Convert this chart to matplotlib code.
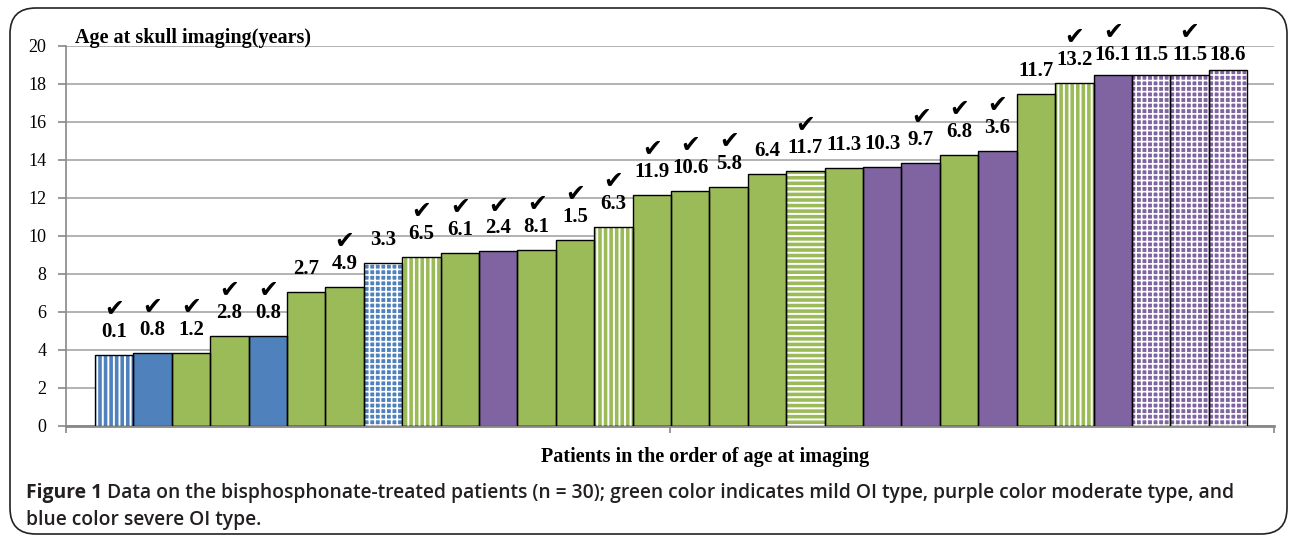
import matplotlib
matplotlib.use("Agg")
import matplotlib.pyplot as plt
from matplotlib.patches import FancyBboxPatch

# data
ages = [3.74, 3.86, 3.86, 4.75, 4.75, 7.07, 7.33, 8.56, 8.88, 9.09,
        9.19, 9.26, 9.79, 10.46, 12.17, 12.38, 12.6, 13.26, 13.44, 13.58,
        13.65, 13.86, 14.26, 14.46, 17.47, 18.07, 18.47, 18.47, 18.47, 18.74]
labels = ["0.1", "0.8", "1.2", "2.8", "0.8", "2.7", "4.9", "3.3", "6.5", "6.1",
          "2.4", "8.1", "1.5", "6.3", "11.9", "10.6", "5.8", "6.4", "11.7", "11.3",
          "10.3", "9.7", "6.8", "3.6", "11.7", "13.2", "16.1", "11.5", "11.5", "18.6"]
# m = mild (green), o = moderate (purple), s = severe (blue)
oi_type = ["s", "s", "m", "m", "s", "m", "m", "s", "m", "m",
           "o", "m", "m", "m", "m", "m", "m", "m", "m", "m",
           "o", "o", "m", "o", "m", "m", "o", "o", "o", "o"]
patterns = ["|||", "", "", "", "", "", "", "+++", "|||", "",
            "", "", "", "|||", "", "", "", "", "---", "",
            "", "", "", "", "", "|||", "", "+++", "+++", "+++"]
checked = [1, 1, 1, 1, 1, 0, 1, 0, 1, 1,
           1, 1, 1, 1, 1, 1, 1, 0, 1, 0,
           0, 1, 1, 1, 0, 1, 1, 0, 1, 0]

caption_lead = "Figure 1"
caption_1 = "Data on the bisphosphonate-treated patients (n = 30); green color indicates mild OI type, purple color moderate type, and"
caption_2 = "blue color severe OI type."

colors = {"m": "#9BBB59", "o": "#8064A2", "s": "#4F81BD"}

fig = plt.figure(figsize=(12.9, 5.37), dpi=100)

# rounded frame around the figure
frame = FancyBboxPatch((10 / 1290, 3 / 537), 1277 / 1290, 526 / 537,
                       boxstyle="round,pad=0,rounding_size=0.02",
                       transform=fig.transFigure, fill=False,
                       edgecolor="#222222", linewidth=1.2, mutation_aspect=2.4)
fig.patches.append(frame)

ax = fig.add_axes([66 / 1290, 1 - 426 / 537, 1208 / 1290, 380 / 537])

x = list(range(1, len(ages) + 1))
fcol = [colors[t] for t in oi_type]

ax.bar(x, ages, width=1, color=fcol, linewidth=0, zorder=2)
for xi, h, p in zip(x, ages, patterns):
    if p:
        lw = 1.2 if "+" in p else 1.4
        with plt.rc_context({"hatch.linewidth": lw}):
            ax.bar(xi, h, width=1, facecolor="none", edgecolor="white",
                   hatch=p, linewidth=0, zorder=3)
ax.bar(x, ages, width=1, facecolor="none", edgecolor="black",
       linewidth=1.0, zorder=4)

for xi, h, lab, c in zip(x, ages, labels, checked):
    ly = min(h + 0.68, 19.0)
    ax.text(xi, ly, lab, ha="center", va="bottom", fontsize=15,
            fontweight="bold", family="Liberation Serif", zorder=5,
            clip_on=False)
    if c:
        ax.text(xi, ly + 1.1, "\u2714", ha="center", va="bottom",
                fontsize=17, family="DejaVu Sans", clip_on=False, zorder=5)

ax.set_ylim(0, 20)
ax.set_xlim(0.5 - 0.755, 30.5 + 0.70)
ax.set_yticks(range(0, 21, 2))
ax.set_yticklabels([str(v) for v in range(0, 21, 2)],
                   family="Liberation Serif", fontsize=13)
ax.set_xticks([0.5 - 0.755, (0.5 - 0.755 + 31.2) / 2, 31.2])
ax.set_xticklabels([])
ax.tick_params(axis="y", length=6, color="#888888", width=1.2, pad=8)
ax.tick_params(axis="x", length=5, color="#888888", width=1.2)
ax.grid(axis="y", color="#A6A6A6", linewidth=1.2, zorder=0)
ax.set_axisbelow(True)
for s in ["top", "right"]:
    ax.spines[s].set_visible(False)
ax.spines["left"].set_color("#888888")
ax.spines["left"].set_linewidth(1.2)
ax.spines["bottom"].set_color("#888888")
ax.spines["bottom"].set_linewidth(2)

fig.text(75 / 1290, 1 - 38 / 537, "Age at skull imaging(years)",
         family="Liberation Serif", fontweight="bold", fontsize=14.5,
         va="center", ha="left")
fig.text(705 / 1290, 1 - 457 / 537, "Patients in the order of age at imaging",
         family="Liberation Serif", fontweight="bold", fontsize=14.5,
         va="center", ha="center")

# caption: bold lead-in then semibold text, sized so line 1 runs 26..1245 px
fig.canvas.draw()
r = fig.canvas.get_renderer()
cap_size = 14
t1 = fig.text(26 / 1290, 1 - 493 / 537, caption_lead, family="Open Sans",
              fontweight="bold", fontsize=cap_size, va="center", color="#231F20")
t2 = fig.text(0, 1 - 493 / 537, caption_1, family="Open Sans",
              fontweight="semibold", fontsize=cap_size, va="center", color="#231F20")
w = t1.get_window_extent(r).width + 5 + t2.get_window_extent(r).width
cap_size = cap_size * (1245 - 26) / w
t1.set_fontsize(cap_size)
t2.set_fontsize(cap_size)
t2.set_x((26 + t1.get_window_extent(r).width + 5) / 1290)
fig.text(26 / 1290, 1 - 520 / 537, caption_2, family="Open Sans",
         fontweight="semibold", fontsize=cap_size, va="center", color="#231F20")

fig.savefig("out.png", dpi=100)
